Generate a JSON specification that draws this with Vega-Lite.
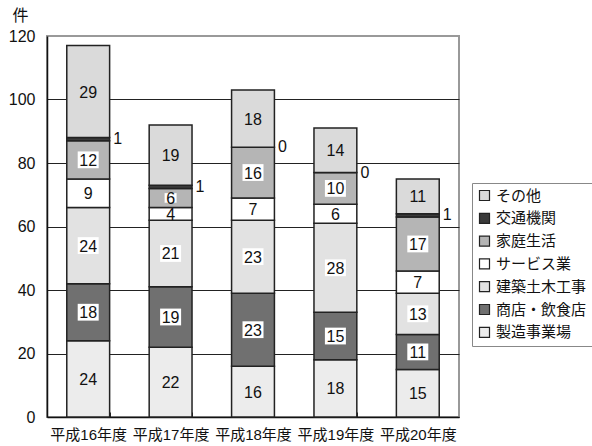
{
  "$schema": "https://vega.github.io/schema/vega-lite/v6.json",
  "width": 412,
  "height": 381,
  "autosize": {"type": "none"},
  "padding": {"left": 47, "top": 36, "right": 133, "bottom": 29},
  "background": "white",
  "config": {
    "view": {"stroke": "#999999", "strokeWidth": 2},
    "font": "Liberation Sans, Noto Sans CJK JP, sans-serif"
  },
  "data": {
    "values": [
      {"year": "平成16年度", "cat": "製造事業場", "ord": 1, "n": 24},
      {"year": "平成16年度", "cat": "商店・飲食店", "ord": 2, "n": 18},
      {"year": "平成16年度", "cat": "建築土木工事", "ord": 3, "n": 24},
      {"year": "平成16年度", "cat": "サービス業", "ord": 4, "n": 9},
      {"year": "平成16年度", "cat": "家庭生活", "ord": 5, "n": 12},
      {"year": "平成16年度", "cat": "交通機関", "ord": 6, "n": 1},
      {"year": "平成16年度", "cat": "その他", "ord": 7, "n": 29},
      {"year": "平成17年度", "cat": "製造事業場", "ord": 1, "n": 22},
      {"year": "平成17年度", "cat": "商店・飲食店", "ord": 2, "n": 19},
      {"year": "平成17年度", "cat": "建築土木工事", "ord": 3, "n": 21},
      {"year": "平成17年度", "cat": "サービス業", "ord": 4, "n": 4},
      {"year": "平成17年度", "cat": "家庭生活", "ord": 5, "n": 6},
      {"year": "平成17年度", "cat": "交通機関", "ord": 6, "n": 1},
      {"year": "平成17年度", "cat": "その他", "ord": 7, "n": 19},
      {"year": "平成18年度", "cat": "製造事業場", "ord": 1, "n": 16},
      {"year": "平成18年度", "cat": "商店・飲食店", "ord": 2, "n": 23},
      {"year": "平成18年度", "cat": "建築土木工事", "ord": 3, "n": 23},
      {"year": "平成18年度", "cat": "サービス業", "ord": 4, "n": 7},
      {"year": "平成18年度", "cat": "家庭生活", "ord": 5, "n": 16},
      {"year": "平成18年度", "cat": "交通機関", "ord": 6, "n": 0},
      {"year": "平成18年度", "cat": "その他", "ord": 7, "n": 18},
      {"year": "平成19年度", "cat": "製造事業場", "ord": 1, "n": 18},
      {"year": "平成19年度", "cat": "商店・飲食店", "ord": 2, "n": 15},
      {"year": "平成19年度", "cat": "建築土木工事", "ord": 3, "n": 28},
      {"year": "平成19年度", "cat": "サービス業", "ord": 4, "n": 6},
      {"year": "平成19年度", "cat": "家庭生活", "ord": 5, "n": 10},
      {"year": "平成19年度", "cat": "交通機関", "ord": 6, "n": 0},
      {"year": "平成19年度", "cat": "その他", "ord": 7, "n": 14},
      {"year": "平成20年度", "cat": "製造事業場", "ord": 1, "n": 15},
      {"year": "平成20年度", "cat": "商店・飲食店", "ord": 2, "n": 11},
      {"year": "平成20年度", "cat": "建築土木工事", "ord": 3, "n": 13},
      {"year": "平成20年度", "cat": "サービス業", "ord": 4, "n": 7},
      {"year": "平成20年度", "cat": "家庭生活", "ord": 5, "n": 17},
      {"year": "平成20年度", "cat": "交通機関", "ord": 6, "n": 1},
      {"year": "平成20年度", "cat": "その他", "ord": 7, "n": 11}
    ]
  },
  "transform": [
    {"stack": "n", "groupby": ["year"], "sort": [{"field": "ord", "order": "ascending"}], "as": ["y0", "y1"]},
    {"calculate": "(datum.y0 + datum.y1) / 2", "as": "ym"}
  ],
  "encoding": {
    "x": {
      "field": "year", "type": "nominal", "sort": null,
      "scale": {"paddingInner": 0.48, "paddingOuter": 0.24},
      "axis": {
        "title": null, "labelAngle": 0, "labelFontSize": 15, "labelColor": "#111",
        "labelPadding": 15, "tickBand": "extent", "tickSize": -5, "tickColor": "#222",
        "domainColor": "#111", "domainWidth": 1.5
      }
    }
  },
  "layer": [
    {
      "mark": {"type": "bar", "stroke": "#222", "strokeWidth": 1.5},
      "encoding": {
        "y": {
          "field": "y1", "type": "quantitative",
          "scale": {"domain": [0, 120], "nice": false},
          "axis": {
            "values": [0, 20, 40, 60, 80, 100, 120],
            "grid": true,
            "gridColor": {"condition": {"test": "datum.value == 120", "value": "transparent"}, "value": "#222"},
            "gridWidth": 1,
            "tickSize": 0, "labelPadding": 12, "labelFontSize": 16, "labelColor": "#111",
            "domainColor": "#111", "domainWidth": 1.5,
            "title": "件", "titleAngle": 0, "titleFontSize": 16, "titleFontWeight": "normal",
            "titleAlign": "center", "titleBaseline": "middle", "titleX": -27, "titleY": -21, "titleColor": "#111"
          }
        },
        "y2": {"field": "y0"},
        "color": {
          "field": "cat", "type": "nominal",
          "scale": {
            "domain": ["その他", "交通機関", "家庭生活", "サービス業", "建築土木工事", "商店・飲食店", "製造事業場"],
            "range": ["#dadada", "#3a3a3a", "#b5b5b5", "#ffffff", "#e2e2e2", "#707070", "#ececec"]
          },
          "legend": {
            "title": null, "orient": "none", "legendX": 425, "legendY": 147,
            "symbolType": "square", "symbolSize": 100, "symbolStrokeColor": "#222", "symbolStrokeWidth": 1.2,
            "labelFontSize": 15, "labelColor": "#111", "labelOffset": 4, "rowPadding": 6.8,
            "padding": 5, "strokeColor": "#888", "fillColor": "white"
          }
        }
      }
    },
    {
      "transform": [{"filter": "indexof(['家庭生活','建築土木工事','商店・飲食店'], datum.cat) >= 0"}],
      "mark": {"type": "point", "filled": true, "color": "white", "opacity": 1, "strokeWidth": 0, "shape": "M-1,-0.8H1V0.8H-1Z"},
      "encoding": {
        "y": {"field": "ym", "type": "quantitative"},
        "size": {"condition": {"test": "datum.n < 10", "value": 144}, "value": 441}
      }
    },
    {
      "transform": [{"filter": "datum.cat != '交通機関'"}],
      "mark": {"type": "text", "fontSize": 16, "color": "#111", "baseline": "middle", "dy": 1},
      "encoding": {
        "y": {"field": "ym", "type": "quantitative"},
        "text": {"field": "n", "type": "quantitative"}
      }
    },
    {
      "transform": [{"filter": "datum.cat == '交通機関'"}],
      "mark": {"type": "text", "fontSize": 16, "color": "#111", "baseline": "middle", "align": "left", "dx": 25},
      "encoding": {
        "y": {"field": "ym", "type": "quantitative"},
        "text": {"field": "n", "type": "quantitative"}
      }
    }
  ]
}
